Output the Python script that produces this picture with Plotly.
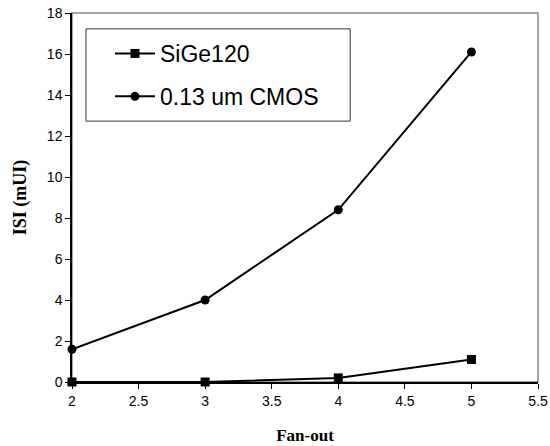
import plotly.graph_objects as go

fan_out = [2, 3, 4, 5]
sige120 = [0.0, 0.0, 0.2, 1.1]
cmos013 = [1.6, 4.0, 8.4, 16.1]

fig = go.Figure()
fig.add_trace(go.Scatter(x=fan_out, y=sige120, mode="lines+markers", name="SiGe120",
                         line=dict(color="black", width=2),
                         marker=dict(symbol="square", size=9, color="black"),
                         legendgroup="a", cliponaxis=False))
fig.add_trace(go.Scatter(x=fan_out, y=cmos013, mode="lines+markers", name="0.13 um CMOS",
                         line=dict(color="black", width=2),
                         marker=dict(symbol="circle", size=9, color="black"),
                         legendgroup="b", cliponaxis=False))

# plot frame (grey) and legend box
fig.add_shape(type="rect", xref="paper", yref="paper", x0=0, y0=0, x1=1, y1=1,
              line=dict(color="#888888", width=1.5), layer="below")
fig.add_shape(type="rect", xref="paper", yref="paper", x0=0.030, y0=0.707, x1=0.597, y1=0.957,
              line=dict(color="#333333", width=1), fillcolor="white", layer="above")

serif = "Liberation Serif, Times New Roman, serif"
fig.update_layout(
    width=550, height=446,
    margin=dict(l=72, r=12, t=13, b=64),
    paper_bgcolor="white", plot_bgcolor="white",
    font=dict(family="Liberation Sans, Arial", size=14, color="black"),
    showlegend=True,
    legend=dict(x=0.0815, y=0.9485, xanchor="left", yanchor="top",
                borderwidth=0, bgcolor="rgba(0,0,0,0)",
                font=dict(size=23, family="Liberation Sans, Arial"),
                tracegroupgap=10, itemwidth=40),
    xaxis=dict(range=[2, 5.5], dtick=0.5, showgrid=False, zeroline=False,
               showline=True, linecolor="black", linewidth=1.5,
               ticks="outside", ticklen=5, tickcolor="black",
               automargin=False,
               title=dict(text="<b>Fan-out</b>", font=dict(family=serif, size=17), standoff=22)),
    yaxis=dict(range=[0, 18], dtick=2, showgrid=False, zeroline=False,
               showline=True, linecolor="black", linewidth=1.5,
               ticks="outside", ticklen=5, tickcolor="black",
               automargin=False,
               title=dict(text="<b>ISI (mUI)</b>", font=dict(family=serif, size=18), standoff=16)),
)

fig.write_html("out.html", config={"displayModeBar": False},
               post_script="document.body.style.margin='0';")
